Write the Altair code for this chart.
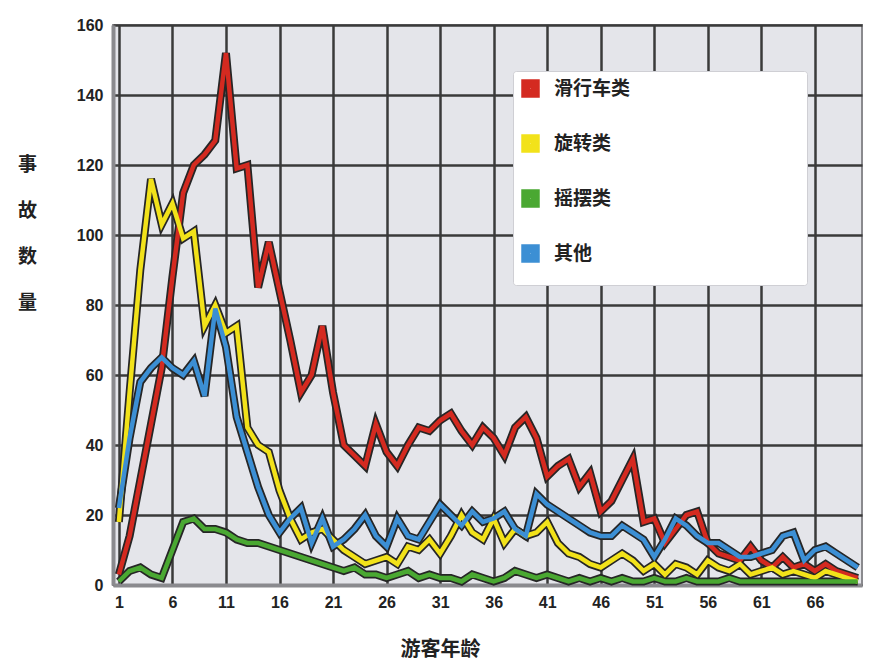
import altair as alt
import pandas as pd

ages = list(range(1, 71))
series_names = ["滑行车类", "旋转类", "摇摆类", "其他"]
series_colors = ["#d42a20", "#f2e21a", "#4aa832", "#3c8fd4"]

coaster = [3, 14, 30, 46, 62, 88, 112, 120, 123, 127,
           152, 119, 120, 85, 98, 84, 70, 55, 60, 74,
           55, 40, 37, 34, 46, 38, 34, 40, 45, 44,
           47, 49, 44, 40, 45, 42, 37, 45, 48, 42,
           31, 34, 36, 28, 32, 21, 24, 30, 36, 18,
           19, 12, 16, 20, 21, 12, 9, 8, 7, 11,
           7, 5, 8, 5, 6, 4, 6, 4, 3, 2]
rotating = [18, 55, 90, 116, 103, 109, 99, 101, 74, 80,
            72, 74, 45, 40, 38, 27, 19, 13, 15, 16,
            13, 10, 8, 6, 7, 8, 6, 11, 10, 13,
            9, 14, 20, 15, 13, 19, 12, 16, 14, 15,
            18, 12, 9, 8, 6, 5, 7, 9, 7, 4,
            6, 3, 6, 5, 3, 7, 5, 4, 6, 3,
            4, 5, 3, 4, 3, 2, 4, 3, 2, 1]
swing = [1, 4, 5, 3, 2, 10, 18, 19, 16, 16,
         15, 13, 12, 12, 11, 10, 9, 8, 7, 6,
         5, 4, 5, 3, 3, 2, 3, 4, 2, 3,
         2, 2, 1, 3, 2, 1, 2, 4, 3, 2,
         3, 2, 1, 2, 1, 2, 1, 2, 1, 1,
         2, 1, 1, 2, 1, 1, 1, 2, 1, 1,
         1, 1, 1, 1, 1, 1, 1, 1, 1, 1]
other = [22, 42, 58, 62, 65, 62, 60, 64, 54, 79,
         68, 48, 38, 28, 20, 15, 19, 22, 12, 19,
         11, 13, 16, 20, 14, 11, 19, 14, 13, 18,
         23, 20, 17, 21, 18, 19, 21, 16, 14, 26,
         23, 21, 19, 17, 15, 14, 14, 17, 15, 13,
         8, 13, 19, 17, 14, 12, 12, 10, 8, 8,
         9, 10, 14, 15, 7, 10, 11, 9, 7, 5]

x_ticks = [1, 6, 11, 16, 21, 26, 31, 36, 41, 46, 51, 56, 61, 66]
y_ticks = [0, 20, 40, 60, 80, 100, 120, 140, 160]

rows = []
for name, vals in zip(series_names, [coaster, rotating, swing, other]):
    for a, v in zip(ages, vals):
        rows.append({"年龄": a, "数量": v, "类别": name})
df = pd.DataFrame(rows)

FONT = "Noto Sans CJK SC"
PAD = "\u2800" * 12

x_enc = alt.X("年龄:Q",
              scale=alt.Scale(domain=[0.45, 70.4], nice=False, zero=False),
              axis=alt.Axis(values=x_ticks, title="游客年龄", ticks=False,
                            labelPadding=9, labelFontSize=16, labelFontWeight="bold",
                            labelFont="Liberation Sans", labelColor="#222",
                            titleFont=FONT, titleFontSize=20, titleFontWeight="bold",
                            titleColor="#222", titleX=327, titleY=64,
                            titleBaseline="middle", titleAnchor="start", titleAlign="center",
                            grid=True, gridColor="#3a3a3a", gridWidth=2.5,
                            domainColor="#8a8a8e", domainWidth=4))
y_enc = alt.Y("数量:Q",
              scale=alt.Scale(domain=[0, 160], nice=False),
              axis=alt.Axis(values=y_ticks, title=["事", "故", "数", "量"], ticks=False,
                            labelPadding=10, labelFontSize=16, labelFontWeight="bold",
                            labelFont="Liberation Sans", labelColor="#222",
                            titleFont=FONT, titleFontSize=19, titleFontWeight="bold",
                            titleColor="#222", titleAngle=0, titleX=-86, titleY=130,
                            titleAlign="center", titleBaseline="top", titleLineHeight=46,
                            grid=True, gridColor="#3a3a3a", gridWidth=2.5,
                            domainColor="#8a8a8e", domainWidth=4))

outline = alt.Chart(df).mark_line(strokeWidth=8, color="#262626").encode(
    x=x_enc, y=y_enc, detail="类别:N")

colored = alt.Chart(df).mark_line(strokeWidth=4.5).encode(
    x=x_enc, y=y_enc,
    color=alt.Color("类别:N", scale=alt.Scale(domain=series_names, range=series_colors),
                    legend=alt.Legend(title=None, orient="none", legendX=400, legendY=46,
                                      symbolType="square", symbolSize=90,
                                      symbolStrokeWidth=9,
                                      labelFont=FONT, labelFontSize=19, labelFontWeight="bold",
                                      labelColor="#222", rowPadding=8, labelOffset=14,
                                      labelExpr="datum.label + '" + PAD + "'",
                                      labelLimit=400,
                                      fillColor="white", padding=8, cornerRadius=3,
                                      strokeColor="#cfcfd4")))

chart = alt.layer(outline, colored).properties(
    width=749, height=560,
    autosize=alt.AutoSizeParams(type="none"),
    padding={"left": 105, "top": 17, "right": 2, "bottom": 82},
).configure_view(fill="#e4e5ea", stroke="#8a8a8e", strokeWidth=2)

chart.save("out.html", embed_options={"renderer": "svg", "actions": False})
